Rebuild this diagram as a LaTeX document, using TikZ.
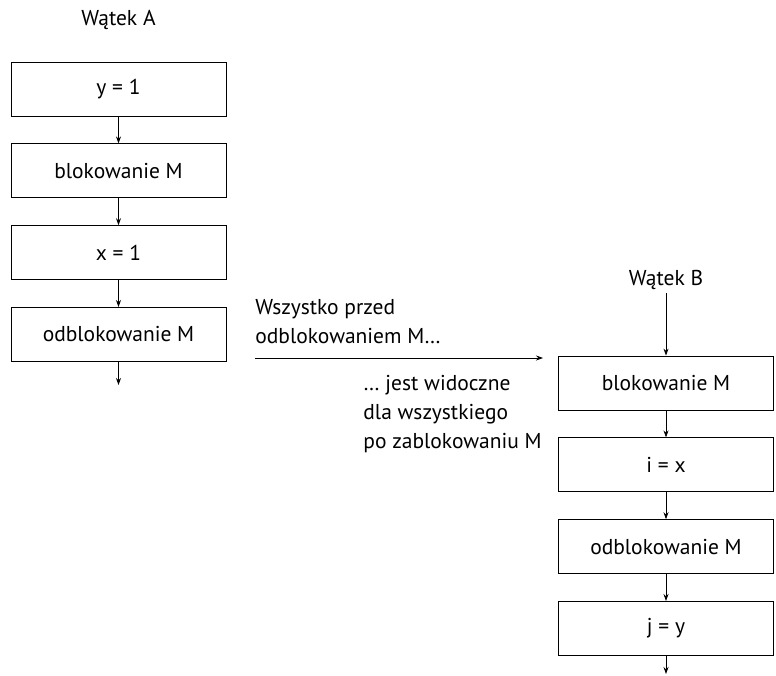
\documentclass[tikz,border=0pt]{standalone}
\usepackage{fontspec}
\setmainfont{PT Sans}
\usetikzlibrary{arrows.meta,positioning}

\begin{document}
\begin{tikzpicture}[
    x = 1pt, y = 1pt, % work in points
    > = {Stealth[length=7pt,width=5pt]}, % arrow head style
    node distance = 27pt, % gap between boxes
    font = \fontsize{21.5}{29}\selectfont,
    line width = 0.8pt % line style
    ]

    \tikzset{box/.style={
    draw = black,
    fill = white,
    minimum width = 215pt,
    minimum height = 54pt
    }}
    \useasboundingbox (0,0) rectangle (776,-676);

    % thread A
    \node (la) at (118.5,-20) {Wątek A};
    \node[box] (a1) at (118.5,-89) {y = 1};
    \node[box] (a2) [below=of a1] {blokowanie M};
    \node[box] (a3) [below=of a2] {x = 1};
    \node[box] (a4) [below=of a3] {odblokowanie M};
    \coordinate (ea) at (118.5,-385);

    \path[->] (a1) edge (a2);
    \path[->] (a2) edge (a3);
    \path[->] (a3) edge (a4);
    \path[->] (a4) edge (ea);

    % thread B
    \node (lb) at (666,-280) {Wątek B};
    \node[box] (b1) at (666,-383) {blokowanie M};
    \node[box] (b2) [below=of b1] {i = x};
    \node[box] (b3) [below=of b2] {odblokowanie M};
    \node[box] (b4) [below=of b3] {j = y};
    \coordinate (eb) at (666,-674);

    \path[->] (lb) edge (b1);
    \path[->] (b1) edge (b2);
    \path[->] (b2) edge (b3);
    \path[->] (b3) edge (b4);
    \path[->] (b4) edge (eb);

    % happens-before
    \coordinate (s) at (255,-358);
    \coordinate (t) at (543,-358);
    \draw[->] (s) -- (t);
    \node[anchor=south west, align=left, inner sep=0pt] (before) at (255,-344)
      {Wszystko przed\\odblokowaniem M…};
    \node[anchor=north west, align=left, inner sep=0pt] (after) at (363,-375)
      {… jest widoczne\\dla wszystkiego\\po zablokowaniu M};
\end{tikzpicture}
\end{document}
